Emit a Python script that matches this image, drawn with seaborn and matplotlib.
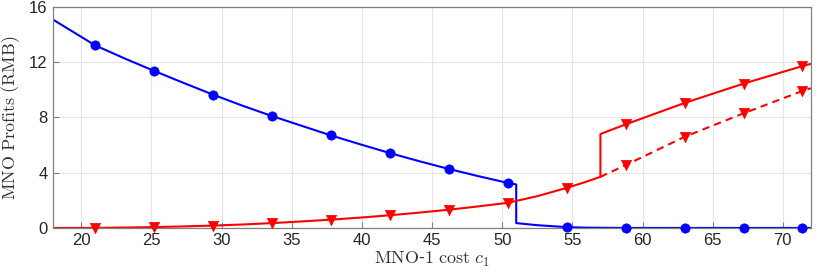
import matplotlib
matplotlib.use("Agg")
import matplotlib.pyplot as plt
import seaborn as sns
import pandas as pd

# ---- data ----
blue_x = [18, 21, 23.1, 25.2, 27.3, 29.4, 31.5, 33.6, 35.7, 37.8, 39.9, 42, 44.1,
          46.2, 48.3, 50.4, 51.0, 51.0, 52.5, 54.6, 56.0, 58.8, 63, 67.2, 71.4, 72]
blue_y = [15.08, 13.22, 12.27, 11.37, 10.5, 9.65, 8.85, 8.1, 7.4, 6.7, 6.05, 5.42, 4.83,
          4.27, 3.75, 3.26, 3.15, 0.35, 0.2, 0.06, 0.02, 0.0, 0.0, 0.0, 0.0, 0.0]

red_x = [18, 21, 23.1, 25.2, 27.3, 29.4, 31.5, 33.6, 35.7, 37.8, 39.9, 42, 44.1, 46.2, 48.3,
         50.4, 52.5, 54.6, 55.8, 57.0, 57.0, 58.8, 63, 67.2, 71.4, 72]
red_y = [0.0, 0.0, 0.03, 0.06, 0.11, 0.17, 0.25, 0.35, 0.47, 0.6, 0.75, 0.92, 1.11, 1.32, 1.56,
         1.82, 2.3, 2.9, 3.28, 3.7, 6.8, 7.5, 9.05, 10.45, 11.72, 11.88]

dash_x = [57.0, 58.8, 63, 67.2, 71.4, 72]
dash_y = [3.7, 4.55, 6.6, 8.3, 9.92, 10.12]

mk_x = [21, 25.2, 29.4, 33.6, 37.8, 42, 46.2, 50.4, 54.6, 58.8, 63, 67.2, 71.4]
blue_mk = [13.22, 11.37, 9.65, 8.1, 6.7, 5.42, 4.27, 3.26, 0.06, 0.0, 0.0, 0.0, 0.0]
red_mk = [0.0, 0.06, 0.17, 0.35, 0.6, 0.92, 1.32, 1.82, 2.9, 7.5, 9.05, 10.45, 11.72]
dash_mk_x = [58.8, 63, 67.2, 71.4]
dash_mk = [4.55, 6.6, 8.3, 9.92]

x_ticks = [20, 25, 30, 35, 40, 45, 50, 55, 60, 65, 70]
y_ticks = [0, 4, 8, 12, 16]

sns.set_theme(style="whitegrid")
plt.rcParams['font.family'] = ['Liberation Sans', 'DejaVu Sans']
plt.rcParams['mathtext.fontset'] = 'cm'

fig = plt.figure(figsize=(8.3, 2.79), dpi=100)
ax = fig.add_axes([0.064, 0.183, 0.913, 0.792])

BLUE = (0, 0, 1)
RED = (1, 0, 0)

sns.lineplot(x=blue_x, y=blue_y, ax=ax, color=BLUE, lw=1.5, sort=False, estimator=None)
sns.lineplot(x=red_x, y=red_y, ax=ax, color=RED, lw=1.5, sort=False, estimator=None)
sns.lineplot(x=dash_x, y=dash_y, ax=ax, color=RED, lw=1.5, sort=False, estimator=None,
             linestyle=(0, (3.5, 2.5)))

sns.scatterplot(x=mk_x, y=blue_mk, ax=ax, color=BLUE, marker='o', s=45, edgecolor=BLUE,
                linewidth=0.5, zorder=4, clip_on=False)
sns.scatterplot(x=mk_x, y=red_mk, ax=ax, color=RED, marker='v', s=55, edgecolor=RED,
                linewidth=0.5, zorder=4, clip_on=False)
sns.scatterplot(x=dash_mk_x, y=dash_mk, ax=ax, color=RED, marker='v', s=55, edgecolor=RED,
                linewidth=0.5, zorder=4, clip_on=False)

ax.set_xlim(18, 72)
ax.set_ylim(0, 16)
ax.set_xticks(x_ticks)
ax.set_yticks(y_ticks)
ax.grid(True, color=(0.9, 0.9, 0.9), lw=0.8)
ax.set_facecolor('white')
for s in ax.spines.values():
    s.set_color((0.5, 0.5, 0.5))
    s.set_linewidth(0.9)
ax.tick_params(direction='in', length=4, width=0.8, color=(0.5, 0.5, 0.5),
               labelsize=12, labelcolor=(0.15, 0.15, 0.15), pad=4, bottom=True, left=True)

ax.set_xlabel(r"$\mathrm{MNO}$-$\mathrm{1\ cost}\ c_1$", fontsize=13, color=(0.2, 0.2, 0.2), labelpad=1)
ax.set_ylabel(r"$\mathrm{MNO\ Profits\ (RMB)}$", fontsize=13, color=(0.2, 0.2, 0.2), labelpad=5)

fig.savefig("out.png", dpi=100)
